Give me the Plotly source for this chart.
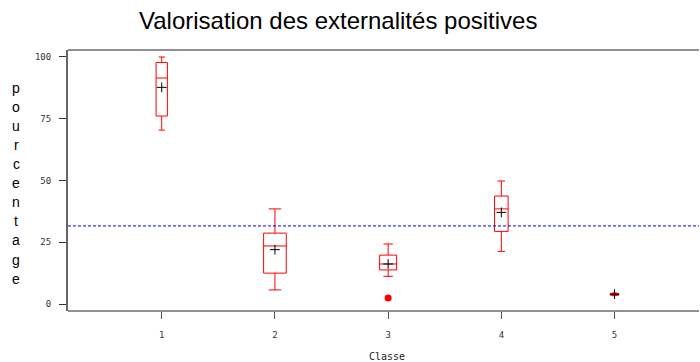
import plotly.graph_objects as go

# Data
classes = [1, 2, 3, 4, 5]
q1 = [76.1, 12.5, 13.8, 29.4, 3.5]
median = [91.5, 23.5, 16.2, 38.5, 3.9]
q3 = [97.8, 28.7, 19.8, 43.7, 4.3]
lower_whisker = [70.4, 5.7, 11.2, 21.3, 3.4]
upper_whisker = [100.0, 38.5, 24.3, 49.8, 4.5]
means = [87.7, 22.0, 16.2, 37.1, 4.0]
outlier_x = [3]
outlier_y = [2.4]
overall_mean = 31.6
y_ticks = [0, 25, 50, 75, 100]
title = "Valorisation des externalités positives"
y_label = "pourcentage"
x_label = "Classe"

# Styling (box widths in axis units, proportional look of the reference)
box_widths = [0.10, 0.20, 0.15, 0.12, 0.07]

PLOT_W = 700 - 68 - 20
X_END = (699 - 68) / PLOT_W  # paper x of the page's right edge

fig = go.Figure()
for i, c in enumerate(classes):
    fig.add_trace(go.Box(
        x=[c], q1=[q1[i]], median=[median[i]], q3=[q3[i]],
        lowerfence=[lower_whisker[i]], upperfence=[upper_whisker[i]],
        width=box_widths[i], whiskerwidth=0.55,
        line=dict(color="#ff0000", width=1),
        fillcolor="rgba(0,0,0,0)", boxpoints=False,
        showlegend=False, hoverinfo="skip",
    ))

fig.add_trace(go.Scatter(
    x=classes, y=means, mode="markers",
    marker=dict(symbol="cross-thin", size=7, line=dict(color="black", width=1)),
    showlegend=False,
))
fig.add_trace(go.Scatter(
    x=outlier_x, y=outlier_y, mode="markers",
    marker=dict(symbol="circle", size=7, color="#ff0000"),
    showlegend=False,
))

fig.add_shape(type="line", xref="paper", yref="paper", x0=0, x1=X_END,
              y0=(overall_mean + 2.83) / 105.66, y1=(overall_mean + 2.83) / 105.66,
              line=dict(color="#0000ff", width=1, dash="3px,2px"))
# top and bottom frame lines running to the page edge (no right border)
fig.add_shape(type="line", xref="paper", yref="paper", x0=0, x1=X_END,
              y0=1, y1=1, line=dict(color="#222222", width=1))
fig.add_shape(type="line", xref="paper", yref="paper", x0=0, x1=X_END,
              y0=0, y1=0, line=dict(color="#222222", width=1))

tick_font = dict(family="DejaVu Sans Mono", size=9, color="#333333")

fig.update_xaxes(
    type="linear", range=[0.172, 0.172 + PLOT_W / 113.2],
    tickvals=classes, ticktext=[str(c) for c in classes],
    ticks="outside", ticklen=7, tickcolor="#555555", tickwidth=1,
    showline=False, mirror=False,
    showgrid=False, zeroline=False, tickfont=tick_font,
    ticklabelstandoff=8,
)
fig.update_yaxes(
    range=[-2.83, 102.83], tickvals=y_ticks,
    ticks="outside", ticklen=7, tickcolor="#333333", tickwidth=1,
    showline=True, linecolor="#666666", linewidth=2, mirror=False,
    showgrid=False, zeroline=False, tickfont=tick_font,
    ticklabelstandoff=6,
)

fig.add_annotation(text=title, xref="paper", yref="paper",
                   x=(338 - 68) / PLOT_W, y=1, yshift=30, showarrow=False,
                   xanchor="center", yanchor="middle",
                   font=dict(family="Liberation Sans, Arial", size=24, color="black"))

fig.add_annotation(text=x_label, xref="paper", yref="paper",
                   x=(387 - 68) / PLOT_W, y=0, yshift=-45, showarrow=False,
                   xanchor="center", yanchor="middle",
                   font=dict(family="DejaVu Sans Mono", size=10, color="#222222"))

# Vertically stacked letters of the y-axis label
n = len(y_label)
top_px, bottom_px = 88, 279
for k, ch in enumerate(y_label):
    ypx = top_px + (bottom_px - top_px) * k / (n - 1)
    fig.add_annotation(text=ch, xref="paper", yref="paper",
                       x=0, xshift=-52, y=(311.3 - ypx) / (311.3 - 50.3),
                       showarrow=False, xanchor="center", yanchor="middle",
                       font=dict(family="Liberation Sans, Arial", size=14, color="black"))

fig.update_layout(
    width=700, height=362,
    margin=dict(l=68, r=20, t=50, b=51),
    plot_bgcolor="white", paper_bgcolor="white",
)

fig.write_html("out.html", config={"displayModeBar": False})
